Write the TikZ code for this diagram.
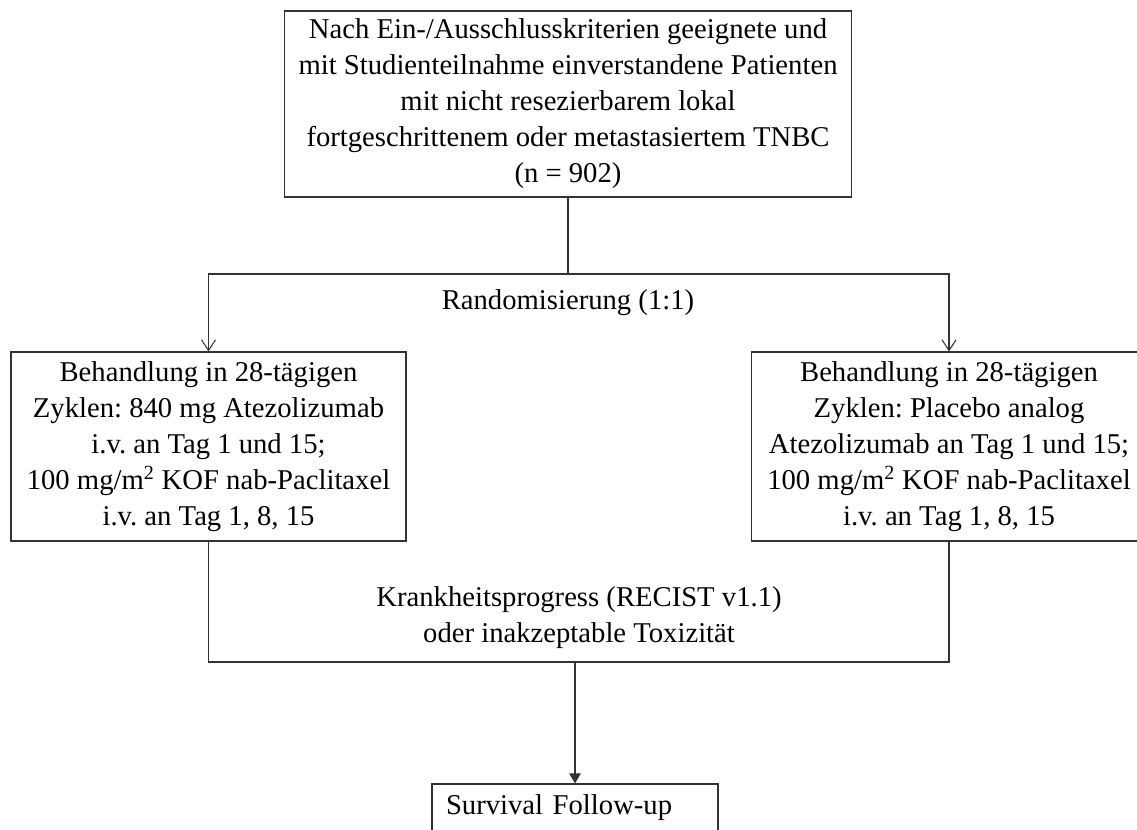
\documentclass[tikz,border=0pt]{standalone}
\usepackage{fontspec}
\setmainfont{Liberation Serif}
\usetikzlibrary{positioning,calc,arrows.meta}
\tikzset{font=\fontsize{21.5pt}{27pt}\selectfont}
\frenchspacing

\begin{document}
\begin{tikzpicture}[x=0.75pt,y=-0.75pt]
	\useasboundingbox (0,0) rectangle (1137,830);
	\begin{scope}[line width=0.8pt, draw=black!80]
		\tikzstyle{every node}=[align=center, inner sep=0pt]
		\tikzstyle{box}=[draw=black!80, minimum width=296.25pt, minimum height=141.75pt]
		\node[box, minimum width=425pt, minimum height=139.5pt] (pat) at (568, 104) {Nach Ein-/Ausschlusskriterien geeignete und\\mit Studienteilnahme einverstandene Patienten\\mit nicht resezierbarem lokal\\fortgeschrittenem oder metastasiertem TNBC\\(n = 902)};
		\node[box] (arma) at (208.5, 446.5) {Behandlung in 28-tägigen\\Zyklen: 840 mg Atezolizumab\\i.v. an Tag 1 und 15;\\100 mg/m\textsuperscript{2} KOF nab-Paclitaxel\\i.v. an Tag 1, 8, 15};
		\node[box] (armb) at (949, 446.5) {Behandlung in 28-tägigen\\Zyklen: Placebo analog\\Atezolizumab an Tag 1 und 15;\\100 mg/m\textsuperscript{2} KOF nab-Paclitaxel\\i.v. an Tag 1, 8, 15};
		\node (rand) at (568, 303) {Randomisierung (1:1)};
		\node (prog) at (579, 618) {Krankheitsprogress (RECIST v1.1)\\oder inakzeptable Toxizität};
		\node[box, align=left, inner xsep=10.5pt, text width=193.5pt, minimum width=214.5pt, minimum height=36pt] (fu) at (575, 808) {Survival Follow-up};

		\coordinate (split) at (568, 274);
		\coordinate (merge) at (575, 662);

		\draw (pat.south) -- (split);
		\draw[-{Straight Barb[length=8pt,width=10.5pt]}] (split) -| (arma);
		\draw[-{Straight Barb[length=8pt,width=10.5pt]}] (split) -| (armb);
		\draw (arma.south) |- (merge) -| (armb.south);
		\draw[-{Triangle[length=7.5pt,width=8.5pt]}] (merge) -- (fu);
	\end{scope}
\end{tikzpicture}
\end{document}
